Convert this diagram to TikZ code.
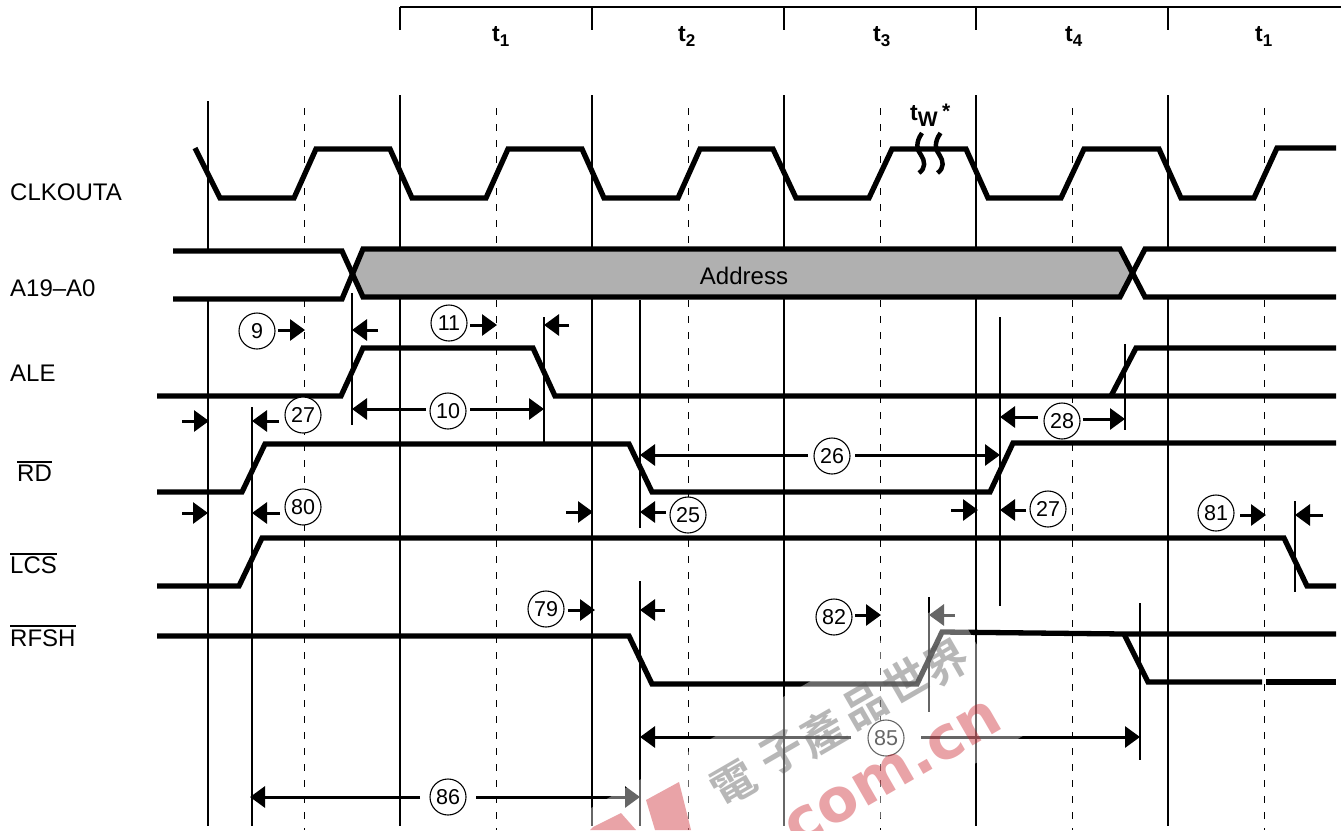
\documentclass[tikz,border=0pt]{standalone}
\usepackage{fontspec}
\setmainfont{Liberation Sans}
\newfontfamily\cjkwm{Noto Sans CJK TC}[BoldFont={Noto Sans CJK TC Bold}]
\newfontfamily\wmlatin{DejaVu Sans}[BoldFont={DejaVu Sans Bold}]
\usetikzlibrary{arrows.meta}
\newcommand{\fs}[2]{\fontsize{#1}{#1}\selectfont #2}
\newcommand{\barred}[1]{\setbox0\hbox{#1}\rlap{\raisebox{19pt}{\rule{\wd0}{1.6pt}}}\box0}
\newcommand{\tlab}[1]{\textbf{\fs{23}{t}\raisebox{-5pt}{\fs{17}{#1}}}}
\tikzset{
  gridline/.style={line width=1.3pt,black},
  halfline/.style={line width=1pt,black,dash pattern=on 7pt off 9pt},
  topline/.style={line width=1.3pt,black},
  wave/.style={line width=5.3pt,black,miter limit=4},
  refline/.style={line width=2.2pt,black},
  tarr/.style={line width=3pt,black,-{Triangle[length=15pt,width=21pt]}},
  num/.style={circle,draw,line width=1.1pt,fill=white,minimum size=36pt,inner sep=0pt,font=\fontsize{21.5}{22}\selectfont},
  siglab/.style={anchor=base west,inner sep=0pt,font=\fontsize{24}{24}\selectfont},
  tlabel/.style={anchor=base west,inner sep=0pt},
  brk/.style={line width=4.5pt,black},
  wmred/.style={fill=wmredc,fill opacity=.4,draw=none},
  wmcjk/.style={text=wmgrayc,text opacity=.42,rotate=30,inner sep=0pt,font=\cjkwm\bfseries\fontsize{44}{44}\selectfont}
}
\definecolor{busgray}{HTML}{B0B0B0}
\definecolor{wmredc}{RGB}{200,25,37}
\definecolor{wmgrayc}{HTML}{555555}
\newcommand{\tarrow}[4]{%
  \coordinate (#1-s) at (#2,#4);
  \coordinate (#1-e) at (#3,#4);
  \draw[tarr] (#1-s) -- (#1-e);}
\begin{document}
\begin{tikzpicture}[x=1pt,y=-1pt]
\useasboundingbox (0,0) rectangle (1341,830);
\fill[white] (0,0) rectangle (1341,830);

% header
\coordinate (hl) at (400,7);
\coordinate (hr) at (1341,7);
\draw[topline] (hl) -- (hr);
\foreach \x in {400,592,784,976,1168} \draw[topline] (\x,7) -- (\x,30);
\node[tlabel] (t1a) at (492,41) {\tlab{1}};
\node[tlabel] (t2)  at (678,41) {\tlab{2}};
\node[tlabel] (t3)  at (873,41) {\tlab{3}};
\node[tlabel] (t4)  at (1065,41) {\tlab{4}};
\node[tlabel] (t1b) at (1255,41) {\tlab{1}};

% clock grid
\draw[gridline] (208,101) -- (208,826);
\foreach \x in {400,592,784,976,1168} \draw[gridline] (\x,95) -- (\x,826);
\foreach \x in {304,496,688,880,1072,1264} \draw[halfline] (\x,108) -- (\x,830);

% labels
\node[siglab] (lclk) at (10,200.5) {CLKOUTA};
\node[siglab] (la)   at (10,296.5) {A19–A0};
\node[siglab] (lale) at (10,381.5) {ALE};
\node[siglab] (lrd)  at (17,481.5) {\barred{RD}};
\node[siglab] (llcs) at (10,573.5) {\barred{LCS}};
\node[siglab] (lrf)  at (10,646) {\barred{RFSH}};

% CLKOUTA
\draw[wave] (195,148) -- (220,198) -- (294,198) -- (316,149) -- (390,149) -- (412,198) -- (486,198) -- (508,149) -- (582,149) -- (604,198) -- (678,198) -- (700,149) -- (773,149) -- (796,198) -- (869,198) -- (892,149) -- (966,149) -- (988,198) -- (1061,198) -- (1084,149) -- (1159,149) -- (1181,198) -- (1254,198) -- (1277,148) -- (1336,148);
\node[tlabel] (tw) at (910,120) {\textbf{\fs{23}{t}\raisebox{-6pt}{\fs{21}{W}}}};
\node[tlabel] (tws) at (942,118) {\textbf{\fs{21}{*}}};
\draw[brk] (922,133) .. controls (915,143) and (917,150) .. (921,155) .. controls (925,161) and (926,168) .. (919,173);
\draw[brk] (940.5,133) .. controls (933.5,143) and (935.5,150) .. (939.5,155) .. controls (943.5,161) and (944.5,168) .. (937.5,173);

% A19-A0 bus
\fill[white] (173,251) -- (342,251) -- (351,273) -- (342,299) -- (173,299) -- cycle;
\fill[white] (1134,273) -- (1147,249) -- (1341,249) -- (1341,297) -- (1147,297) -- cycle;
\filldraw[fill=busgray,draw=none] (351,273) -- (363,249) -- (1120,249) -- (1134,273) -- (1120,297) -- (363,297) -- cycle;
\draw[wave] (173,251) -- (342,251) -- (363,297) -- (1120,297) -- (1145,249) -- (1336,249);
\draw[wave] (173,299) -- (342,299) -- (363,249) -- (1120,249) -- (1145,297) -- (1336,297);
\node[inner sep=0pt,font=\fontsize{24}{24}\selectfont] (addr) at (744,276) {Address};

% ALE
\draw[wave] (157,396) -- (341,396) -- (363,348) -- (533,348) -- (555,396) -- (1336,396);
\draw[wave] (1111,396) -- (1136,348) -- (1336,348);
% RD
\draw[wave] (157,492) -- (242,492) -- (265,444) -- (629,444) -- (652,492) -- (990,492) -- (1013,443) -- (1336,443);
% LCS
\draw[wave] (157,586) -- (239,586) -- (262,538) -- (1284,538) -- (1307,586) -- (1336,586);
% RFSH
\draw[wave] (157,636) -- (629,636) -- (652,684) -- (917,684) -- (942,632) -- (1124,634) -- (1336,634);
\draw[wave] (1124,634) -- (1148,682) -- (1262,682);
\draw[wave] (1266,682) -- (1336,682);

% reference lines
\draw[refline] (352,293) -- (352,425);
\draw[refline] (544,317) -- (544,443);
\draw[refline] (640,300) -- (640,528);
\draw[refline] (640,581) -- (640,826);
\draw[refline] (252,407) -- (252,826);
\draw[refline] (1000,317) -- (1000,606);
\draw[refline] (1125,344) -- (1125,430);
\draw[refline] (1295,501) -- (1295,592);
\draw[refline] (929,597) -- (929,712);
\draw[refline] (1140,603) -- (1140,760);

% numbered circles
\node[num] (c9)  at (257,331) {9};
\node[num] (c11) at (449,323) {11};
\node[num] (c10) at (448,411) {10};
\node[num] (c27a) at (303,415) {27};
\node[num] (c28) at (1062,421) {28};
\node[num] (c26) at (832,456) {26};
\node[num] (c80) at (303,507) {80};
\node[num] (c25) at (688,515) {25};
\node[num] (c27b) at (1048,509) {27};
\node[num] (c81) at (1216,513) {81};
\node[num] (c79) at (546,609) {79};
\node[num] (c82) at (834,617) {82};
\node[num] (c85) at (886,738) {85};
\node[num] (c86) at (448,797) {86};

% arrows
\tarrow{a9r}{278}{305}{330}
\tarrow{a9l}{378}{352}{330}
\tarrow{a11r}{470}{497}{325}
\tarrow{a11l}{569}{544}{325}
\tarrow{a10l}{426}{352}{409}
\tarrow{a10r}{470}{544}{409}
\tarrow{a27r}{182}{209}{421}
\tarrow{a27l}{279}{252}{421}
\tarrow{a28l}{1038}{1000}{417}
\tarrow{a28r}{1083}{1125}{419}
\tarrow{a26l}{808}{640}{455}
\tarrow{a26r}{855}{1000}{455}
\tarrow{a80r}{182}{208}{513}
\tarrow{a80l}{280}{252}{513}
\tarrow{a25r}{566}{593}{512}
\tarrow{a25l}{666}{640}{512}
\tarrow{a27br}{951}{978}{510}
\tarrow{a27bl}{1026}{1000}{510}
\tarrow{a81r}{1240}{1266}{515}
\tarrow{a81l}{1323}{1295}{515}
\tarrow{a79r}{568}{595}{610}
\tarrow{a79l}{665}{640}{610}
\tarrow{a82r}{855}{881}{615}
\tarrow{a82l}{955}{929}{615}
\tarrow{a85l}{851}{640}{737}
\tarrow{a85r}{921}{1140}{737}
\tarrow{a86l}{420}{250}{797}
\tarrow{a86r}{476}{640}{797}

% watermark
\begin{scope}
\clip (0,0) rectangle (1341,830);
\fill[white,fill opacity=.4] (951,600) -- (1028,733) -- (860,830) -- (553,830) -- cycle;
\fill[wmred] (646,800) -- (679,782) -- (691,830) -- (655,830) -- cycle;
\fill[wmred] (593,827) -- (621,813) -- (636,830) -- (590,830) -- cycle;
\node[anchor=base east,inner sep=0pt,rotate=30,text=wmredc,text opacity=.4,font=\wmlatin\bfseries\fontsize{60}{60}\selectfont] (wmcn) at (1006,727) {com.cn};
\node[wmcjk] (w1) at (733,783) {電};
\node[wmcjk] (w2) at (782,753) {子};
\node[wmcjk] (w3) at (822,733) {產};
\node[wmcjk] (w4) at (865,706) {品};
\node[wmcjk] (w5) at (905,680) {世};
\node[wmcjk] (w6) at (947,663) {界};
\end{scope}
\end{tikzpicture}
\end{document}
